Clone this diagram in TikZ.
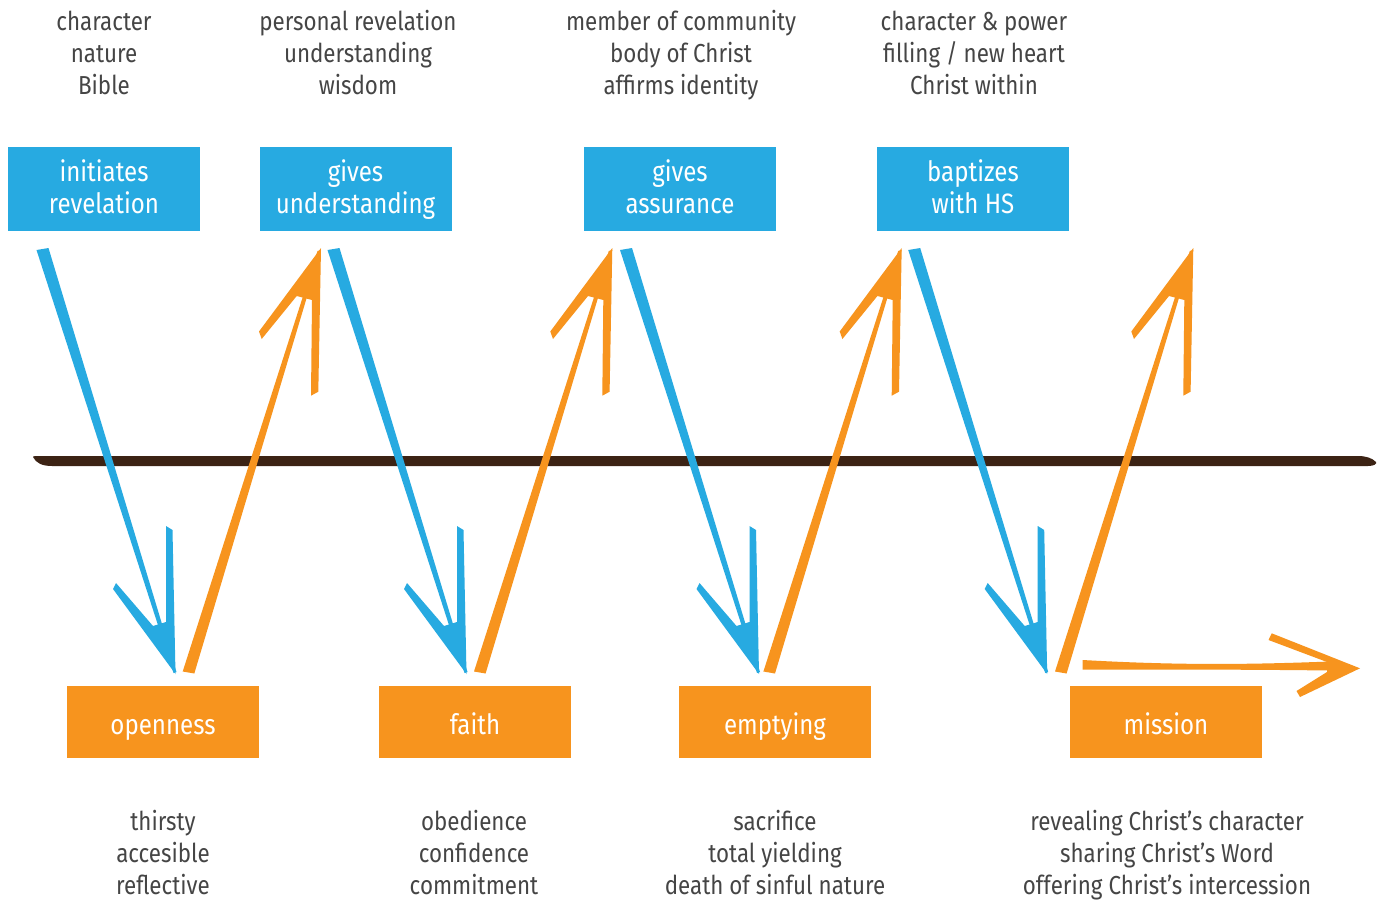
\documentclass[tikz,border=0pt]{standalone}
\usepackage{fontspec}
\setmainfont{Fira Sans}[FakeStretch=0.86]
\definecolor{cblue}{HTML}{27AAE1}
\definecolor{corange}{HTML}{F7941E}
\definecolor{cbrown}{HTML}{3C2314}
\definecolor{ctext}{HTML}{454545}
\newcommand{\BlueArrow}[1]{%
  \begin{scope}[xshift=#1pt]
    \fill[cblue] (36.5,250) -- (48.5,248) -- (176.5,672) -- (173.5,673) -- cycle;
    \fill[cblue] (116,583) -- (153,626) -- (166,622) -- (166,526) -- (172.5,530) -- (175.5,674) -- (113,589) -- cycle;
  \end{scope}}
\newcommand{\OrangeArrow}[1]{%
  \begin{scope}[xshift=#1pt]
    \fill[corange] (182.7,671.5) -- (194.3,673.5) -- (321,250) -- (317.5,251) -- cycle;
    \fill[corange] (321,248) -- (259,331.5) -- (261.7,339) -- (296.7,296) -- (312,300) -- (311,395.7) -- (318.3,391.7) -- cycle;
  \end{scope}}
\newcommand{\Tl}[1]{\strut#1}
\begin{document}
\begin{tikzpicture}[x=1pt,y=-1pt,
  lbl/.style={text=ctext,font=\fontsize{26}{32}\selectfont,align=center,inner sep=0pt},
  bluebox/.style={fill=cblue,minimum width=192pt,minimum height=84pt,inner sep=0pt},
  orbox/.style={fill=corange,minimum width=192pt,minimum height=72pt,inner sep=0pt},
  boxtext/.style={text=white,inner sep=0pt,align=center,font=\fontsize{28}{32}\selectfont}]
\useasboundingbox (0,0) rectangle (1380,900);
\fill[white] (0,0) rectangle (1380,900);

% baseline
\fill[cbrown] (33,457) .. controls (36,463) and (42,466) .. (52,466) -- (1368,466)
  .. controls (1374,466) and (1377,464) .. (1376,462)
  .. controls (1372,458) and (1366,456) .. (1358,456) -- (40,456)
  .. controls (36,456) and (33,456) .. (33,457) -- cycle;

% top labels
\node[lbl] (t1) at (104,56) {\Tl{character}\\\Tl{nature}\\\Tl{Bible}};
\node[lbl] (t2) at (358,56) {\Tl{personal revelation}\\\Tl{understanding}\\\Tl{wisdom}};
\node[lbl] (t3) at (681,56) {\Tl{member of community}\\\Tl{body of Christ}\\\Tl{affirms identity}};
\node[lbl] (t4) at (974,56) {\Tl{character \& power}\\\Tl{filling / new heart}\\\Tl{Christ within}};

% blue boxes
\node[bluebox] (b1) at (104,189) {};
\node[bluebox] (b2) at (355.5,189) {};
\node[bluebox] (b3) at (680,189) {};
\node[bluebox] (b4) at (973,189) {};
\node[boxtext] (b1t) at (104,191) {\Tl{initiates}\\\Tl{revelation}};
\node[boxtext] (b2t) at (355.5,191) {\Tl{gives}\\\Tl{understanding}};
\node[boxtext] (b3t) at (680,191) {\Tl{gives}\\\Tl{assurance}};
\node[boxtext] (b4t) at (973,191) {\Tl{baptizes}\\\Tl{with HS}};

% orange boxes
\node[orbox] (o1) at (163,722) {};
\node[orbox] (o2) at (475,722) {};
\node[orbox] (o3) at (775,722) {};
\node[orbox] (o4) at (1166,722) {};
\node[boxtext] (o1t) at (163,728.5) {\Tl{openness}};
\node[boxtext] (o2t) at (475,728.5) {\Tl{faith}};
\node[boxtext] (o3t) at (775,728.5) {\Tl{emptying}};
\node[boxtext] (o4t) at (1166,728.5) {\Tl{mission}};

% bottom labels
\node[lbl] (l1) at (163,856) {\Tl{thirsty}\\\Tl{accesible}\\\Tl{reflective}};
\node[lbl] (l2) at (474,856) {\Tl{obedience}\\\Tl{confidence}\\\Tl{commitment}};
\node[lbl] (l3) at (775,856) {\Tl{sacrifice}\\\Tl{total yielding}\\\Tl{death of sinful nature}};
\node[lbl] (l4) at (1167,856) {\Tl{revealing Christ’s character}\\\Tl{sharing Christ’s Word}\\\Tl{offering Christ’s intercession}};

% arrows
\BlueArrow{0}
\BlueArrow{291}
\BlueArrow{583.5}
\BlueArrow{871.7}
\OrangeArrow{0}
\OrangeArrow{291.3}
\OrangeArrow{580.7}
\OrangeArrow{872.3}

% final horizontal arrow
\fill[corange] (1082.7,660) .. controls (1180,665.5) and (1250,664.5) .. (1330,661.5)
  -- (1330,670.5) .. controls (1250,669.5) and (1180,669.5) .. (1082.7,669.5) -- cycle;
\fill[corange] (1360,668.3) -- (1271.7,633.3) -- (1268.5,640) -- (1327,662) -- (1327,672)
  -- (1296.5,691) -- (1300,697) -- cycle;
\end{tikzpicture}
\end{document}
